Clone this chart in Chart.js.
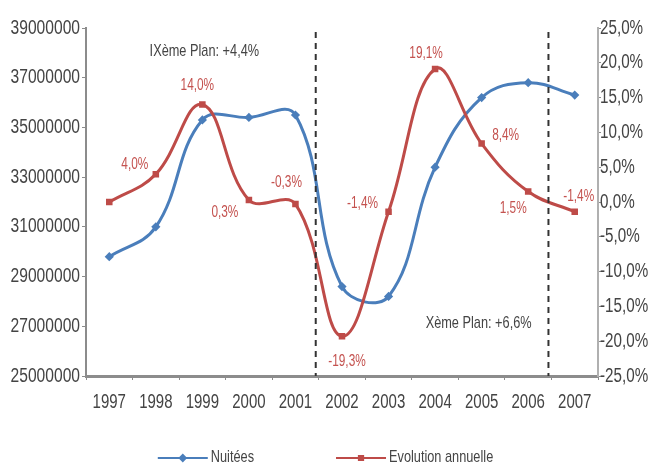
<!DOCTYPE html>
<html>
<head>
<meta charset="utf-8">
<script src="https://cdn.jsdelivr.net/npm/chart.js@4.4.1/dist/chart.umd.min.js"></script>
<style>
  html, body { margin: 0; padding: 0; background: #fff; }
  #wrap { width: 651px; height: 468px; }
</style>
</head>
<body>
<div id="wrap"><canvas id="chart"></canvas></div>
<script>
const years = ['1997', '1998', '1999', '2000', '2001', '2002', '2003', '2004', '2005', '2006', '2007'];
const nuitees = [29800000, 31000000, 35300000, 35400000, 35500000, 28600000, 28200000, 33400000, 36200000, 36800000, 36300000];
const evolution = [0, 4.0, 14.0, 0.3, -0.3, -19.3, -1.4, 19.1, 8.4, 1.5, -1.4];
const evolutionLabels = ['', '4,0%', '14,0%', '0,3%', '-0,3%', '-19,3%', '-1,4%', '19,1%', '8,4%', '1,5%', '-1,4%'];
const planTexts = ['IXème Plan: +4,4%', 'Xème Plan: +6,6%'];

const FONT = "'Liberation Sans', Arial, sans-serif";
const BLUE = '#4a7ebb';
const RED = '#be4b48';
const AXIS = '#8c8c8c';
const TXT = '#444';

// per-point offsets of the red value labels (px, relative to the point)
const labelOffsets = [[0, 0], [-21, -10], [-5, -19], [-24, 13], [-9, -21], [5, 25], [-26, -8], [-9, -15], [24, -8], [-15, 17], [4, -15]];

// the source uses a tall, narrow face: squeeze Liberation Sans horizontally
function narrowText(ctx, text, x, y, align, size, color, sx = 0.76) {
    ctx.save();
    ctx.font = size + 'px ' + FONT;
    ctx.fillStyle = color;
    ctx.textAlign = align;
    ctx.textBaseline = 'middle';
    ctx.translate(x, y);
    ctx.scale(sx, 1);
    ctx.fillText(text, 0, 0);
    ctx.restore();
}

const extras = {
    id: 'extras',
    afterDraw(chart) {
        const ctx = chart.ctx;
        const { x, y, y1 } = chart.scales;
        const area = chart.chartArea;

        // axis labels
        x.ticks.forEach((t, i) => narrowText(ctx, t.label, x.getPixelForTick(i), area.bottom + 26, 'center', 20, TXT, 0.75));
        y.ticks.forEach((t, i) => narrowText(ctx, t.label, x.left - 6, y.getPixelForTick(i), 'right', 20, TXT, 0.78));
        y1.ticks.forEach((t, i) => narrowText(ctx, t.label, y1.left + 2, y1.getPixelForTick(i), 'left', 20, TXT, 0.76));

        ctx.save();
        // dashed separators between the plans
        ctx.strokeStyle = '#333';
        ctx.lineWidth = 2;
        ctx.setLineDash([6, 5]);
        [[4, 5], [9, 10]].forEach(([a, b]) => {
            const px = (x.getPixelForValue(a) + x.getPixelForValue(b)) / 2 - 3;
            ctx.beginPath();
            ctx.moveTo(px, area.top + 4);
            ctx.lineTo(px, area.bottom);
            ctx.stroke();
        });
        ctx.restore();

        // plan annotations
        narrowText(ctx, planTexts[0], x.getPixelForValue(2) + 2, y.getPixelForValue(38050000), 'center', 17, TXT, 0.75);
        narrowText(ctx, planTexts[1], x.getPixelForValue(8) - 3, y.getPixelForValue(27100000), 'center', 17, TXT, 0.75);

        // red value labels
        chart.getDatasetMeta(1).data.forEach((pt, i) => {
            if (!evolutionLabels[i]) return;
            narrowText(ctx, evolutionLabels[i], pt.x + labelOffsets[i][0], pt.y + labelOffsets[i][1], 'center', 16, '#c4524f', 0.74);
        });

        // legend
        ctx.save();
        ctx.font = '17px ' + FONT;
        const items = chart.data.datasets.map(d => ({ label: d.label, color: d.borderColor, style: d.pointStyle }));
        const lineW = 50, gap = 82, sx = 0.75;
        const widths = items.map(it => lineW + 3 + ctx.measureText(it.label).width * sx);
        let cx = (chart.width - (widths[0] + widths[1] + gap)) / 2;
        const ly = chart.height - 10;
        items.forEach((it, i) => {
            ctx.strokeStyle = it.color;
            ctx.fillStyle = it.color;
            ctx.lineWidth = 2;
            ctx.beginPath();
            ctx.moveTo(cx, ly);
            ctx.lineTo(cx + lineW, ly);
            ctx.stroke();
            Chart.helpers.drawPoint(ctx, { pointStyle: it.style, radius: 3, borderWidth: 1, rotation: 0 }, cx + lineW / 2, ly);
            narrowText(ctx, it.label, cx + lineW + 3, ly - 1, 'left', 17, TXT, sx);
            cx += widths[i] + gap;
        });
        ctx.restore();
    }
};

new Chart(document.getElementById('chart'), {
    type: 'line',
    data: {
        labels: years,
        datasets: [
            {
                label: 'Nuitées',
                data: nuitees,
                yAxisID: 'y',
                borderColor: BLUE,
                backgroundColor: BLUE,
                borderWidth: 3,
                tension: 0.4,
                pointStyle: 'rectRot',
                pointRadius: 2.5,
                order: 2
            },
            {
                label: 'Evolution annuelle',
                data: evolution,
                yAxisID: 'y1',
                borderColor: RED,
                backgroundColor: RED,
                borderWidth: 3,
                tension: 0.4,
                pointStyle: 'rect',
                pointRadius: 2.5,
                order: 1
            }
        ]
    },
    options: {
        responsive: true,
        maintainAspectRatio: false,
        animation: false,
        layout: { padding: { top: 28, bottom: 62, left: 4, right: 0 } },
        plugins: { legend: { display: false }, tooltip: { enabled: false } },
        scales: {
            x: {
                offset: true,
                grid: { offset: true, drawOnChartArea: false, color: AXIS, tickLength: 4 },
                border: { color: AXIS, width: 3 },
                ticks: { color: 'transparent', font: { size: 10 }, maxRotation: 0, autoSkip: false },
                afterFit: s => { s.height = 30; }
            },
            y: {
                position: 'left',
                min: 25000000,
                max: 39000000,
                grid: { drawOnChartArea: false, color: AXIS, tickLength: 4 },
                border: { color: AXIS, width: 2 },
                ticks: { stepSize: 2000000, color: 'transparent', font: { size: 6 }, callback: v => String(v) },
                afterFit: s => { s.width = 82; }
            },
            y1: {
                position: 'right',
                min: -25,
                max: 25,
                grid: { drawOnChartArea: false, color: AXIS, tickLength: 3 },
                border: { color: '#b0b0b0', width: 2 },
                ticks: { stepSize: 5, color: 'transparent', font: { size: 6 }, callback: v => v.toFixed(1).replace('.', ',') + '%' },
                afterFit: s => { s.width = 53; }
            }
        }
    },
    plugins: [extras]
});
</script>
</body>
</html>
